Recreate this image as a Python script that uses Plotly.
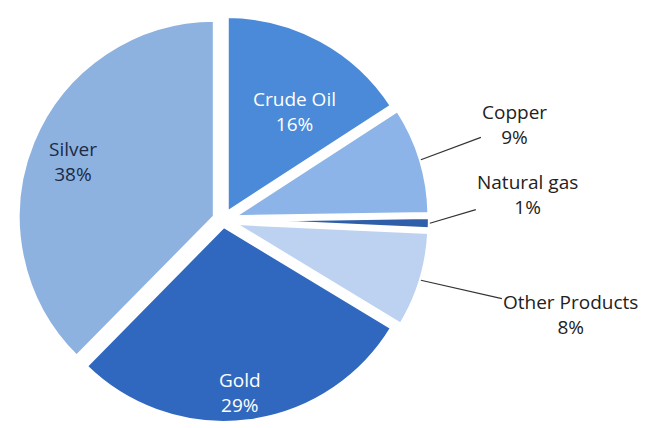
import math
import plotly.graph_objects as go

labels = ["Crude Oil", "Copper", "Natural gas", "Other Products", "Gold", "Silver"]
values = [16, 9, 1, 8, 29, 38]
colors = ["#4a8ad8", "#8db4e8", "#2e5fa8", "#bcd2f0", "#2f68be", "#8db2e0"]
pulls = [0.04, 0.05, 0.05, 0.05, 0.03, 0.045]

# label styling / placement (layout, not data)
inside = [True, False, False, False, True, True]
label_colors = ["#ffffff", "#222222", "#222222", "#222222", "#ffffff", "#1c2a44"]
inside_k = [0.62, 0, 0, 0, 0.85, 0.77]           # radial position of inside labels
inside_rot = [5, 0, 0, 0, 1.5, -1]              # small angular nudge (deg)
outside_off = [(0, 0), (94, -35), (98, -29), (150, 34), (0, 0), (0, 0)]  # px offset of text from tip

W, H = 646, 428
CX, CY = 215.0, 212.0
R_TARGET = 197.0
half = R_TARGET * (1 + max(pulls))
x0, x1 = (CX - half) / W, (CX + half) / W
y0, y1 = 1 - (CY + half) / H, 1 - (CY - half) / H
R = min(x1 - x0, (y1 - y0) * H / W) * W / 2 / (1 + max(pulls))

FONT = "Open Sans"
FSIZE = 19

fig = go.Figure(go.Pie(
    labels=labels,
    values=values,
    sort=False,
    direction="clockwise",
    rotation=0,
    pull=pulls,
    marker=dict(colors=colors, line=dict(color="#ffffff", width=4)),
    textinfo="none",
    showlegend=False,
    hoverinfo="label+value",
    automargin=False,
    domain=dict(x=[x0, x1], y=[y0, y1]),
))

total = sum(values)
cum = 0
annotations = []
for i, (lab, v) in enumerate(zip(labels, values)):
    mid = (cum + v / 2) / total * 2 * math.pi
    cum += v
    if inside[i]:
        a = mid + math.radians(inside_rot[i])
        d = inside_k[i] * R + pulls[i] * R
        px, py = CX + d * math.sin(a), CY - d * math.cos(a)
        annotations.append(dict(
            x=px / W, y=1 - py / H, xref="paper", yref="paper",
            text=f"{lab}<br>{v}%", showarrow=False,
            font=dict(family=FONT, size=FSIZE, color=label_colors[i]),
            xanchor="center", yanchor="middle", align="center",
        ))
    else:
        d = R * (1 + pulls[i])
        px, py = CX + d * math.sin(mid), CY - d * math.cos(mid)
        ox, oy = outside_off[i]
        annotations.append(dict(
            x=px / W, y=1 - py / H, xref="paper", yref="paper",
            text=f"{lab}<br>{v}%", showarrow=True,
            ax=ox, ay=oy, arrowhead=0, arrowwidth=1.2, arrowcolor="#333333",
            standoff=0, startstandoff=0,
            font=dict(family=FONT, size=FSIZE, color=label_colors[i]),
            xanchor="center", yanchor="middle", align="center",
        ))

fig.update_layout(
    width=W, height=H,
    autosize=False,
    margin=dict(l=0, r=0, t=0, b=0, autoexpand=False),
    paper_bgcolor="#ffffff",
    plot_bgcolor="#ffffff",
    annotations=annotations,
)

fig.write_html("out.html")
